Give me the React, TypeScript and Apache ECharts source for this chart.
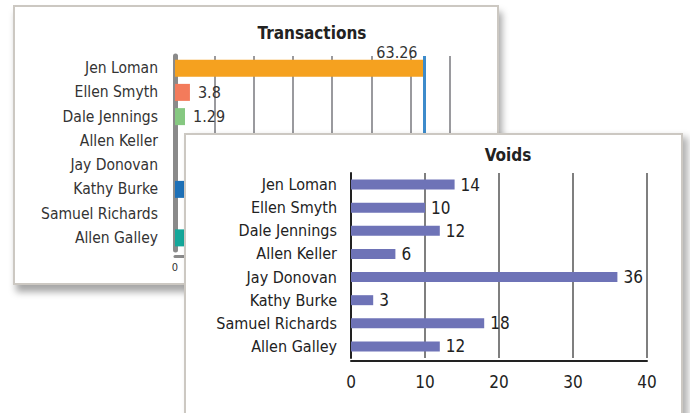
import React, { useEffect, useRef } from "react";
import * as echarts from "echarts";

const categories = [
  "Jen Loman",
  "Ellen Smyth",
  "Dale Jennings",
  "Allen Keller",
  "Jay Donovan",
  "Kathy Burke",
  "Samuel Richards",
  "Allen Galley",
];
// Transactions: hidden values (Kathy Burke, Allen Galley) estimated; blank rows have no bar
const transactions: (number | null)[] = [63.26, 3.8, 1.29, null, null, 5.1, null, 4.7];
const transactionColors = ["#F5A11F", "#F37B5B", "#86C881", "#999999", "#999999", "#1D70B7", "#999999", "#14A79A"];
const transactionsMarker = 63.4;
const transactionTicks = { min: 0, max: 70, interval: 10 };
// only the first three labels and the "0" tick are visible (the rest lie under the Voids panel)
const visibleTransactionLabels = 3;

const voids = [14, 10, 12, 6, 36, 3, 18, 12];
const voidTicks = { min: 0, max: 40, interval: 10 };

const FONT = "'DejaVu Sans Condensed', 'DejaVu Sans', sans-serif";

function useChart(option: any) {
  const ref = useRef<HTMLDivElement>(null);
  useEffect(() => {
    if (!ref.current) return;
    const chart = echarts.init(ref.current, undefined, { renderer: "svg" });
    chart.setOption(option);
    return () => chart.dispose();
  }, []);
  return ref;
}

const transactionsOption = {
  animation: false,
  backgroundColor: "#ffffff",
  title: {
    text: "Transactions",
    left: 292,
    top: 12,
    textAlign: "center",
    textStyle: { fontFamily: FONT, fontSize: 17, fontWeight: "bold", color: "#222" },
  },
  grid: { left: 160, top: 49, width: 275, height: 194 },
  xAxis: {
    type: "value",
    min: transactionTicks.min,
    max: transactionTicks.max,
    interval: transactionTicks.interval,
    offset: 6,
    axisLine: { show: true, lineStyle: { color: "#8a8a8a", width: 3 } },
    axisTick: { show: false },
    axisLabel: {
      fontFamily: FONT,
      fontSize: 11,
      color: "#333",
      margin: 6,
      formatter: (v: number) => (v === transactionTicks.min ? String(v) : ""),
    },
    splitLine: { show: true, lineStyle: { color: "#9a9a9e", width: 2 } },
  },
  yAxis: {
    type: "category",
    data: categories,
    inverse: true,
    offset: 6,
    axisLine: { show: true, lineStyle: { color: "#8a8a8a", width: 5 } },
    axisTick: { show: false },
    axisLabel: { fontFamily: FONT, fontSize: 15.5, color: "#333", margin: 11 },
  },
  series: [
    {
      type: "bar",
      barWidth: 17,
      barMinHeight: 10,
      data: transactions.map((v, i) => ({
        value: v,
        itemStyle: { color: transactionColors[i] },
        label:
          i === 0
            ? { position: ["100%", 0], align: "right", verticalAlign: "bottom", offset: [-6, 1] }
            : i >= visibleTransactionLabels
            ? { show: false }
            : undefined,
      })),
      label: {
        show: true,
        position: "right",
        distance: 8,
        fontFamily: FONT,
        fontSize: 16,
        color: "#333",
      },
      markLine: {
        silent: true,
        symbol: "none",
        label: { show: false },
        lineStyle: { color: "#3D8BCB", width: 3, type: "solid" },
        data: [{ xAxis: transactionsMarker }],
      },
    },
  ],
};

const voidsOption = {
  animation: false,
  backgroundColor: "#ffffff",
  title: {
    text: "Voids",
    left: 317,
    top: 6,
    textAlign: "center",
    textStyle: { fontFamily: FONT, fontSize: 17, fontWeight: "bold", color: "#222" },
  },
  grid: { left: 165, top: 38, width: 296, height: 185 },
  xAxis: {
    type: "value",
    min: voidTicks.min,
    max: voidTicks.max,
    interval: voidTicks.interval,
    offset: 3,
    axisLine: { show: true, lineStyle: { color: "#222", width: 2 } },
    axisTick: { show: false },
    axisLabel: { fontFamily: FONT, fontSize: 17, color: "#222", margin: 12 },
    splitLine: { show: true, lineStyle: { color: "#555", width: 1.5 } },
  },
  yAxis: {
    type: "category",
    data: categories,
    inverse: true,
    axisLine: { show: true, lineStyle: { color: "#222", width: 2 } },
    axisTick: { show: false },
    axisLabel: { fontFamily: FONT, fontSize: 16, color: "#222", margin: 14 },
  },
  series: [
    {
      type: "bar",
      barWidth: 10,
      data: voids,
      itemStyle: { color: "#6E73B7" },
      label: {
        show: true,
        position: "right",
        distance: 6,
        fontFamily: FONT,
        fontSize: 17,
        color: "#222",
      },
    },
  ],
};

export default function App() {
  const backRef = useChart(transactionsOption);
  const frontRef = useChart(voidsOption);
  return (
    <div
      style={{
        position: "absolute",
        left: 0,
        top: 0,
        width: 690,
        height: 413,
        overflow: "hidden",
        background: "#ffffff",
      }}
    >
      <div
        style={{
          position: "absolute",
          left: 13,
          top: 5,
          width: 486,
          height: 280,
          boxSizing: "border-box",
          border: "2px solid #ccc8c2",
          background: "#fff",
          boxShadow: "3px 7px 7px rgba(0,0,0,0.35)",
        }}
      >
        <div ref={backRef} style={{ width: 482, height: 276 }} />
      </div>
      <div
        style={{
          position: "absolute",
          left: 184,
          top: 133,
          width: 499,
          height: 300,
          boxSizing: "border-box",
          border: "2px solid #ccc8c2",
          background: "#fff",
          boxShadow: "5px 4px 7px rgba(0,0,0,0.3)",
        }}
      >
        <div ref={frontRef} style={{ width: 495, height: 296 }} />
      </div>
    </div>
  );
}
